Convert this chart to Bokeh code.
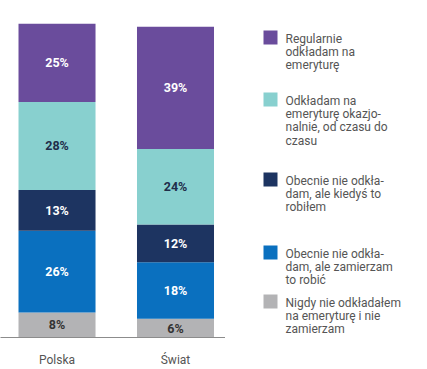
from bokeh.plotting import figure
from bokeh.layouts import row
from bokeh.models import ColumnDataSource, FixedTicker, LabelSet
from bokeh.core.properties import value
from bokeh.embed import file_html
from bokeh.resources import INLINE

# ---- data ----
countries = ["Polska", "Świat"]
# bottom -> top stacking order
nigdy = [8, 6]
zamierzam = [26, 18]
kiedys = [13, 12]
okazjonalnie = [28, 24]
regularnie = [25, 39]

series_names = ["nigdy", "zamierzam", "kiedys", "okazjonalnie", "regularnie"]
series_values = [nigdy, zamierzam, kiedys, okazjonalnie, regularnie]
series_colors = ["#b3b3b5", "#0a70bf", "#1d3461", "#88d0cf", "#6a4c9c"]
label_colors = ["#333333", "#ffffff", "#ffffff", "#1f2d4a", "#ffffff"]

legend_labels = [
    "Regularnie\nodkładam na\nemeryturę",
    "Odkładam na\nemeryturę okazjo-\nnalnie, od czasu do\nczasu",
    "Obecnie nie odkła-\ndam, ale kiedyś to\nrobiłem",
    "Obecnie nie odkła-\ndam, ale zamierzam\nto robić",
    "Nigdy nie odkładałem\nna emeryturę i nie\nzamierzam",
]
legend_colors = ["#6a4c9c", "#88d0cf", "#1d3461", "#0a70bf", "#b3b3b5"]

FONT = "Roboto"

# ---- bar chart ----
xs = list(range(len(countries)))
data = {"x": xs}
for n, v in zip(series_names, series_values):
    data[n] = v
src = ColumnDataSource(data)

FT, FH = 23, 314  # frame top / frame height (px)

p = figure(title=None, frame_width=225, frame_height=FH,
           x_range=(-0.477, 1.422), y_range=(0, 100),
           y_axis_type=None, output_backend="svg", toolbar_location=None,
           min_border_left=0, min_border_right=0, min_border_top=FT,
           min_border_bottom=0)
p.outline_line_color = None
p.xgrid.visible = False
p.ygrid.visible = False
p.background_fill_color = "white"
p.border_fill_color = "white"

p.vbar_stack(series_names, x="x", width=0.65, color=series_colors,
             line_color=None, source=src)

# value labels centred in each segment
lx, ly, lt, lc = [], [], [], []
for i in xs:
    base = 0
    for vals, col in zip(series_values, label_colors):
        v = vals[i]
        lx.append(i)
        ly.append(base + v / 2)
        lt.append(f"{v}%")
        lc.append(col)
        base += v
p.text(x=lx, y=ly, text=lt, text_color=lc, text_align="center",
       text_baseline="middle", text_font=value(FONT),
       text_font_size="12.5px", text_font_style="bold")

ax = p.xaxis[0]
ax.ticker = FixedTicker(ticks=xs)
ax.major_label_overrides = {i: c for i, c in zip(xs, countries)}
ax.major_tick_line_color = None
ax.minor_tick_line_color = None
ax.axis_line_color = "#8c8c8c"
ax.major_label_standoff = 9
ax.major_label_text_font = FONT
ax.major_label_text_font_size = "12px"
ax.major_label_text_color = "#555555"

# ---- legend panel (frame top aligned with the bar frame) ----
LFH = 340
leg = figure(title=None, frame_width=200, frame_height=LFH, x_range=(225, 425),
             y_range=(FT + LFH, FT),
             x_axis_type=None, y_axis_type=None, output_backend="svg",
             toolbar_location=None, min_border=0)
leg.outline_line_color = None
leg.xgrid.visible = False
leg.ygrid.visible = False
leg.background_fill_color = "white"
leg.border_fill_color = "white"

item_first_line = [38, 100, 180, 253, 302]
line_h = 13.4
sq_x, sq_y = [], []
tx, ty, tt = [], [], []
for lab, y0 in zip(legend_labels, item_first_line):
    sq_x.append(270)
    sq_y.append(y0 - 1)
    for k, line in enumerate(lab.split("\n")):
        tx.append(285)
        ty.append(y0 + k * line_h)
        tt.append(line)
leg.rect(x=sq_x, y=sq_y, width=14, height=14, color=legend_colors,
         line_color=None)
lsrc = ColumnDataSource(dict(x=tx, y=ty, t=tt))
leg.add_layout(LabelSet(x="x", y="y", text="t", source=lsrc,
                        text_color="#555555", text_align="left",
                        text_baseline="middle", text_font=value(FONT),
                        text_font_size="12px"))

layout = row(p, leg, spacing=0)
open("out.html", "w").write(file_html(layout, INLINE))
